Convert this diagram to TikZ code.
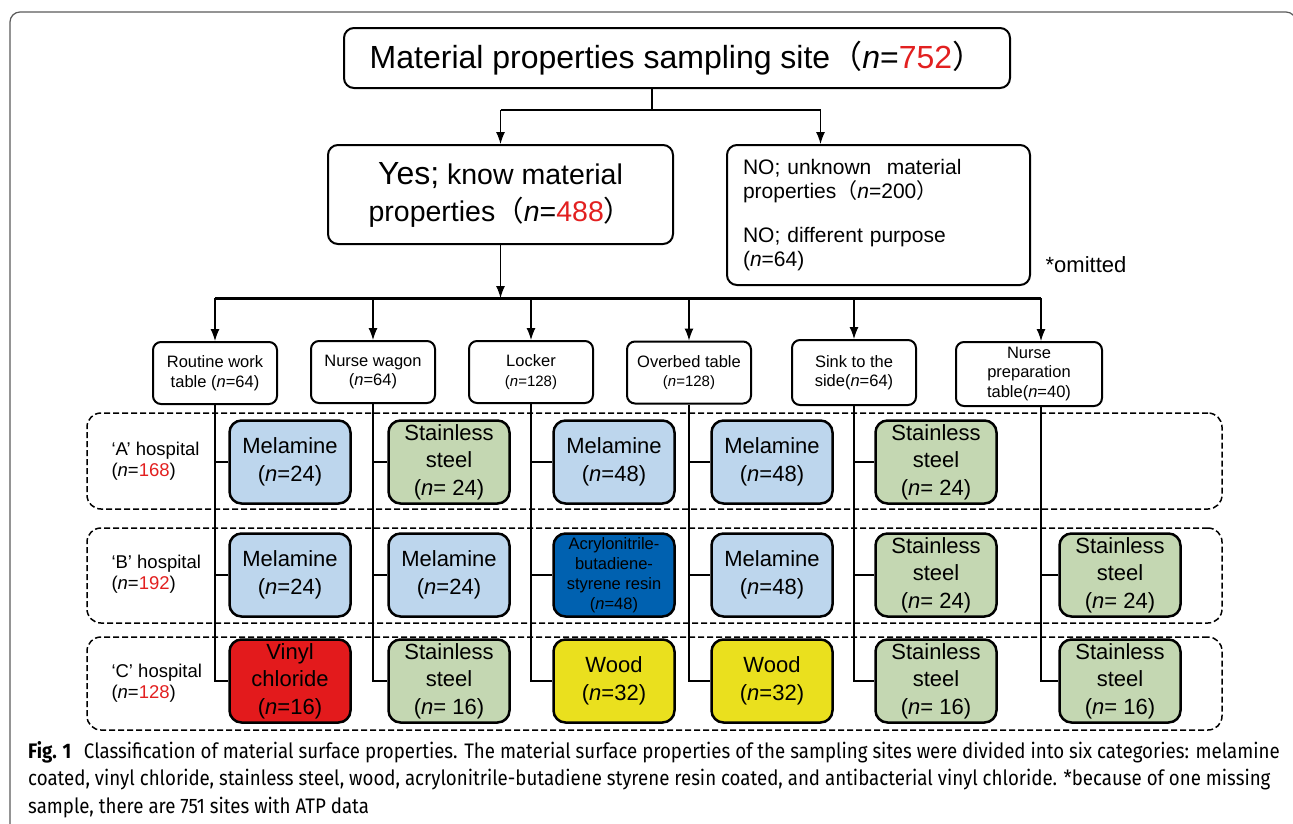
\documentclass[tikz,border=0pt]{standalone}
\usepackage{fontspec}
\setmainfont{Liberation Sans}
\newfontfamily\cjk{Noto Sans CJK SC}
\newfontfamily\capfont[FakeStretch=0.89]{Fira Sans}
\usepackage{xcolor}
\usetikzlibrary{arrows.meta}

\definecolor{melablue}{RGB}{189,214,237}
\definecolor{steelgreen}{RGB}{196,215,178}
\definecolor{absblue}{RGB}{0,97,176}
\definecolor{vinylred}{RGB}{227,26,28}
\definecolor{woodyellow}{RGB}{234,224,30}
\definecolor{numred}{RGB}{226,32,32}
\definecolor{framegray}{RGB}{90,90,90}

\newcommand{\nn}{\textit{n}}
\newcommand{\fwl}{{\cjk （}}
\newcommand{\fwr}{{\cjk ）}}

\begin{document}
\begin{tikzpicture}[x=1pt,y=-1pt,
    box/.style={draw,rounded corners=10pt,line width=2pt,align=center,inner sep=0pt},
    catbox/.style={draw,rounded corners=8pt,line width=2pt,align=center,inner sep=0pt,
        minimum width=124pt,minimum height=62pt,font=\fontsize{16.5}{19.5}\selectfont},
    matbox/.style={draw,rounded corners=12pt,line width=2.5pt,align=center,inner sep=0pt,
        minimum width=121pt,minimum height=83pt,font=\fontsize{22}{27.5}\selectfont},
    hosprow/.style={draw,dash pattern=on 6pt off 3pt,line width=1.5pt,rounded corners=14pt,
        minimum width=1135pt,inner sep=0pt},
    hosplabel/.style={anchor=west,align=left,font=\fontsize{18.5}{21}\selectfont},
    link/.style={line width=1.2pt},
    arr/.style={line width=1.2pt,-{Latex[length=12pt,width=9pt]}}]
                \useasboundingbox (0,0) rectangle (1293,823);
                \begin{scope}
                    \clip (0,0) rectangle (1293,823);
                    \draw[framegray, line width=1.2pt, rounded corners=10pt] (10,840) -- (10,12) -- (1296,12) -- (1296,840);
                \end{scope}

                \node[box,minimum width=666pt,minimum height=60pt,font=\fontsize{32}{36}\selectfont] (site) at (677,58)
                    {Material properties sampling site\fwl\nn=\textcolor{numred}{752}\fwr};
                \node[box,minimum width=345pt,minimum height=99pt,font=\fontsize{28.5}{37}\selectfont] (yes) at (500.5,194.5)
                    {{\fontsize{32}{37}\selectfont Yes;} know material\\properties\fwl\nn=\textcolor{numred}{488}\fwr};
                \node[box,minimum width=303pt,minimum height=140pt,text width=271pt,align=left,font=\fontsize{21}{24}\selectfont] (no) at (878.5,215)
                    {NO; unknown\hspace{0.4em} material\\properties\fwl\nn=200\fwr\\[20pt]NO; different purpose\\(\nn=64)};
                \node[font=\fontsize{22}{24}\selectfont] (omit) at (1086,265) {*omitted};

                \coordinate (split) at (652,110);
                \coordinate (bar) at (0,298);
                \draw[line width=2pt] (site.south -| split) -- (split);
                \draw[line width=2.5pt] (yes.north |- split) -- ([xshift=-58pt]no.north |- split);
                \draw[arr] (yes.north |- split) -- (yes.north);
                \draw[arr] ([xshift=-58pt]no.north |- split) -- ([xshift=-58pt]no.north);
                \draw[arr] (yes.south) -- (yes.south |- bar);

                \node[catbox] (work) at (215,373) {Routine work\\table (\nn=64)};
                \node[catbox] (wagon) at (373,372) {Nurse wagon\\(\nn=64)};
                \node[catbox] (locker) at (531,372) {Locker\\{\fontsize{15}{19.5}\selectfont(\nn=128)}};
                \node[catbox] (overbed) at (689,372.5) {Overbed table\\{\fontsize{15}{19.5}\selectfont(\nn=128)}};
                \node[catbox,minimum height=65pt] (sink) at (854,372.5) {Sink to the\\side(\nn=64)};
                \node[catbox,minimum width=146pt,minimum height=64pt] (prep) at (1029,374) {Nurse\\preparation\\table(\nn=40)};

                \draw[line width=3pt] (work.north |- bar) -- ([xshift=12pt]prep.north |- bar);
                \draw[arr] (work.north |- bar) -- (work.north);
                \draw[arr] (wagon.north |- bar) -- (wagon.north);
                \draw[arr] (locker.north |- bar) -- (locker.north);
                \draw[arr] (overbed.north |- bar) -- (overbed.north);
                \draw[arr] (sink.north |- bar) -- (sink.north);
                \draw[arr] ([xshift=12pt]prep.north |- bar) -- ([xshift=12pt]prep.north);

                \node[hosprow,minimum height=96pt] (rowA) at (654.5,461) {};
                \node[hosprow,minimum height=95pt] (rowB) at (654.5,575.5) {};
                \node[hosprow,minimum height=93pt] (rowC) at (654.5,683.5) {};
                \node[hosplabel] (hospA) at (108,461) {‘A’ hospital\\(\nn=\textcolor{numred}{168})};
                \node[hosplabel] (hospB) at (108,574) {‘B’ hospital\\(\nn=\textcolor{numred}{192})};
                \node[hosplabel] (hospC) at (108,683) {‘C’ hospital\\(\nn=\textcolor{numred}{128})};

                \node[matbox,fill=melablue] (a1) at (290,462) {Melamine\\(\nn=24)};
                \node[matbox,fill=steelgreen] (a2) at (449,462) {Stainless\\steel\\(\nn= 24)};
                \node[matbox,fill=melablue] (a3) at (614,462) {Melamine\\(\nn=48)};
                \node[matbox,fill=melablue] (a4) at (772,462) {Melamine\\(\nn=48)};
                \node[matbox,fill=steelgreen] (a5) at (936,462) {Stainless\\steel\\(\nn= 24)};

                \node[matbox,fill=melablue] (b1) at (290,575) {Melamine\\(\nn=24)};
                \node[matbox,fill=melablue] (b2) at (449,575) {Melamine\\(\nn=24)};
                \node[matbox,fill=absblue,font=\fontsize{16.5}{20}\selectfont] (b3) at (614,575)
                    {Acrylonitrile-\\butadiene-\\styrene resin\\(\nn=48)};
                \node[matbox,fill=melablue] (b4) at (772,575) {Melamine\\(\nn=48)};
                \node[matbox,fill=steelgreen] (b5) at (936,575) {Stainless\\steel\\(\nn= 24)};
                \node[matbox,fill=steelgreen] (b6) at (1120,575) {Stainless\\steel\\(\nn= 24)};

                \node[matbox,fill=vinylred] (c1) at (290,681) {Vinyl\\chloride\\(\nn=16)};
                \node[matbox,fill=steelgreen] (c2) at (449,681) {Stainless\\steel\\(\nn= 16)};
                \node[matbox,fill=woodyellow] (c3) at (614,681) {Wood\\(\nn=32)};
                \node[matbox,fill=woodyellow] (c4) at (772,681) {Wood\\(\nn=32)};
                \node[matbox,fill=steelgreen] (c5) at (936,681) {Stainless\\steel\\(\nn= 16)};
                \node[matbox,fill=steelgreen] (c6) at (1120,681) {Stainless\\steel\\(\nn= 16)};

                \draw[link] (work.south) |- (c1.west);
                \draw[link] (work.south |- a1.west) -- (a1.west);
                \draw[link] (work.south |- b1.west) -- (b1.west);
                \draw[link] (wagon.south) |- (c2.west);
                \draw[link] (wagon.south |- a2.west) -- (a2.west);
                \draw[link] (wagon.south |- b2.west) -- (b2.west);
                \draw[link] (locker.south) |- (c3.west);
                \draw[link] (locker.south |- a3.west) -- (a3.west);
                \draw[link] (locker.south |- b3.west) -- (b3.west);
                \draw[link] (overbed.south) |- (c4.west);
                \draw[link] (overbed.south |- a4.west) -- (a4.west);
                \draw[link] (overbed.south |- b4.west) -- (b4.west);
                \draw[link] (sink.south) |- (c5.west);
                \draw[link] (sink.south |- a5.west) -- (a5.west);
                \draw[link] (sink.south |- b5.west) -- (b5.west);
                \draw[link] ([xshift=12pt]prep.south) |- (c6.west);
                \draw[link] ([xshift=12pt]prep.south |- b6.west) -- (b6.west);

                \node[anchor=north west,align=left,inner sep=0pt,font=\capfont\fontsize{21}{27.5}\selectfont] (caption) at (28,741)
                    {\textbf{Fig. 1}\hspace{0.6em}Classification of material surface properties. The material surface properties of the sampling sites were divided into six categories: melamine\\
                    coated, vinyl chloride, stainless steel, wood, acrylonitrile-butadiene styrene resin coated, and antibacterial vinyl chloride. *because of one missing\\
                    sample, there are 751 sites with ATP data};
            \end{tikzpicture}
\end{document}
